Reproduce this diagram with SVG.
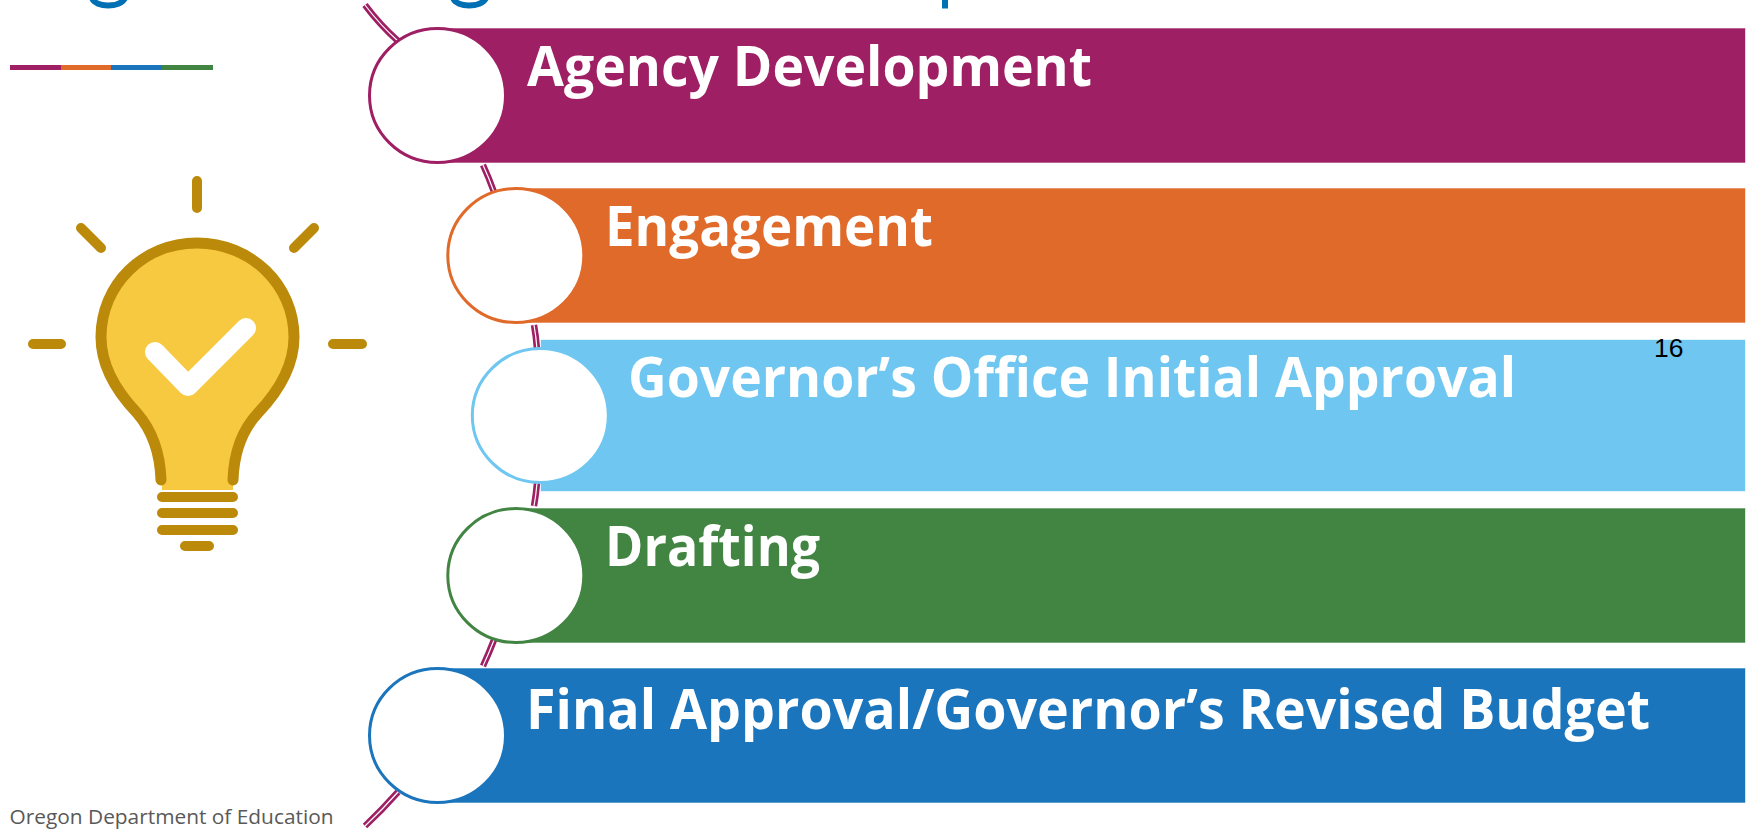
<svg xmlns="http://www.w3.org/2000/svg" width="1754" height="830" viewBox="0 0 1754 830">
<style>
.bar{stroke-width:1;stroke-opacity:.4}
.disc{fill:#fff;stroke-width:3}
.lbl{font-family:"Open Sans","Noto Sans","Liberation Sans",sans-serif;font-weight:700;font-size:56px;fill:#fff}
.arcO{fill:none;stroke:#9e1f63;stroke-width:6.5}
.arcI{fill:none;stroke:#fff;stroke-width:1.2}
.ray{fill:none;stroke:#bc8a0a;stroke-width:11;stroke-linecap:round}
.ray2{fill:none;stroke:#bc8a0a;stroke-width:10;stroke-linecap:round}
</style>
<rect width="1754" height="830" fill="#fff"/>
<g id="title-remnants" fill="none" stroke="#0070b5" stroke-width="6">
<path d="M92,-2C96,8 120,8 125,-2"/>
<path d="M453,-2C457,8 481,8 486,-2"/>
<path d="M945,0V8.5"/>
</g>
<g id="accent-rule">
<rect x="10" y="65" width="51" height="5" fill="#9e1f63"/>
<rect x="61" y="65" width="50" height="5" fill="#e06a2a"/>
<rect x="111" y="65" width="51" height="5" fill="#1a75bc"/>
<rect x="162" y="65" width="51" height="5" fill="#428543"/>
</g>
<g id="connectors">
<path class="arcO" d="M365,5Q380,25 398,41"/><path class="arcI" d="M365,5Q380,25 398,41"/>
<path class="arcO" d="M483,165Q489,178 494,192"/><path class="arcI" d="M483,165Q489,178 494,192"/>
<path class="arcO" d="M534,325Q536,336 537,349"/><path class="arcI" d="M534,325Q536,336 537,349"/>
<path class="arcO" d="M537,483Q536,495 534,506"/><path class="arcI" d="M537,483Q536,495 534,506"/>
<path class="arcO" d="M494,640Q489,653 483,666"/><path class="arcI" d="M494,640Q489,653 483,666"/>
<path class="arcO" d="M398,792Q382,810 365,826"/><path class="arcI" d="M398,792Q382,810 365,826"/>
</g>
<g id="node-agency">
<rect class="bar" x="436" y="28.5" width="1309" height="134" fill="#9e1f63" stroke="#9e1f63"/>
<ellipse class="disc" cx="437.5" cy="95.5" rx="68" ry="67" stroke="#9e1f63"/>
<text class="lbl" x="527" y="86" textLength="565" lengthAdjust="spacingAndGlyphs">Agency Development</text>
</g>
<g id="node-engagement">
<rect class="bar" x="514" y="188.5" width="1231" height="134" fill="#e06a2a" stroke="#e06a2a"/>
<ellipse class="disc" cx="515.8" cy="255.5" rx="68" ry="67" stroke="#e06a2a"/>
<text class="lbl" x="605" y="246" textLength="328" lengthAdjust="spacingAndGlyphs">Engagement</text>
</g>
<g id="node-governor">
<rect class="bar" x="541" y="340" width="1204" height="151" fill="#6fc7f1" stroke="#6fc7f1"/>
<ellipse class="disc" cx="540.3" cy="415.5" rx="68" ry="67" stroke="#6fc7f1"/>
<text class="lbl" x="628" y="397" textLength="888" lengthAdjust="spacingAndGlyphs">Governor’s Office Initial Approval</text>
<text x="1654" y="357" font-family="Liberation Sans, Arial, sans-serif" font-size="26.5" fill="#000">16</text>
</g>
<g id="node-drafting">
<rect class="bar" x="514" y="508.5" width="1231" height="134" fill="#428543" stroke="#428543"/>
<ellipse class="disc" cx="515.8" cy="575.5" rx="68" ry="67" stroke="#428543"/>
<text class="lbl" x="605" y="566" textLength="215" lengthAdjust="spacingAndGlyphs">Drafting</text>
</g>
<g id="node-final">
<rect class="bar" x="436" y="668.5" width="1309" height="134" fill="#1a75bc" stroke="#1a75bc"/>
<ellipse class="disc" cx="437.5" cy="735.5" rx="68" ry="67" stroke="#1a75bc"/>
<text class="lbl" x="526" y="729" textLength="1124" lengthAdjust="spacingAndGlyphs">Final Approval/Governor’s Revised Budget</text>
</g>
<g id="bulb">
<path d="M162,490V480C160,450 150,428 137,413C118,393 101,368 101,337C101,285 143,243 197,243C251,243 294,285 294,337C294,368 277,393 258,413C244,428 234,450 233,480V490Z" fill="#f7c940"/>
<path class="ray" d="M161,480C160,450 150,428 137,413C118,393 101,368 101,337C101,285 143,243 197,243C251,243 294,285 294,337C294,368 277,393 258,413C244,428 234,450 233,480"/>
<path class="ray2" d="M197,181V208M81,228L101,248M314,228L294,248M33,344H61M333,344H362M162,497H233M162,513H233M162,530H233M185,546H209"/>
<path d="M155,352L188,386L246,328" fill="none" stroke="#fff" stroke-width="20" stroke-linecap="round" stroke-linejoin="round"/>
</g>
<text id="footer" x="9.5" y="824" font-family="Open Sans, Noto Sans, sans-serif" font-size="20" fill="#595959" textLength="324" lengthAdjust="spacingAndGlyphs">Oregon Department of Education</text>
</svg>
